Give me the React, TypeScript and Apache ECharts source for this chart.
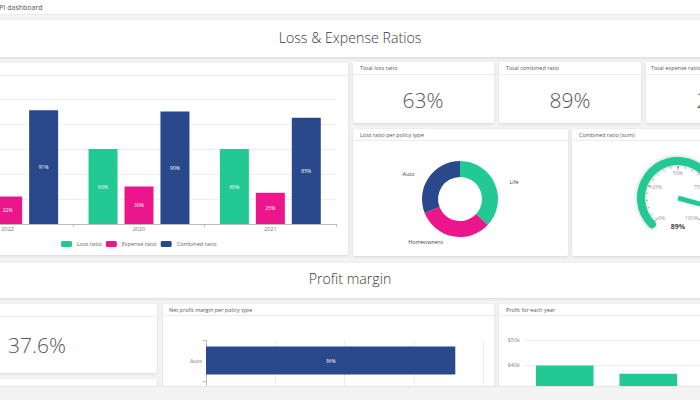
import React, { useEffect, useRef } from 'react';
import * as echarts from 'echarts';

// ---------- data ----------
const years = ['2022', '2020', '2021'];
const lossRatio = [69, 60, 60];
const expenseRatio = [22, 30, 25];
const combinedRatio = [91, 90, 85];

const policyTypes = ['Life', 'Homeowners', 'Auto'];
const lossByPolicy = [37, 32, 31];

const combinedRatioSum = 89;

const kpiTotalLoss = '63%';
const kpiTotalCombined = '89%';
const kpiTotalExpense = '26%';
const kpiProfitMargin = '37.6%';

const netProfitTypes = ['Auto', 'Homeowners', 'Life'];
const netProfitMargin = [36, 39, 38];

const profitYears = ['2022', '2020', '2021'];
const profitValues = [39800, 36500, 34500];

// ---------- styles ----------
const FONT = 'Open Sans';
const GREEN = '#22c992';
const PINK = '#ec168c';
const NAVY = '#2a488c';
const BG = '#f3f3f3';

const card = (x: number, y: number, w: number, h: number) => ({
  type: 'rect',
  silent: true,
  shape: { x, y, width: w, height: h, r: 2 },
  style: { fill: '#fff', shadowBlur: 3, shadowColor: 'rgba(0,0,0,0.12)', shadowOffsetY: 1 },
});
const hline = (x1: number, x2: number, y: number) => ({
  type: 'line',
  silent: true,
  shape: { x1, y1: y + 0.5, x2, y2: y + 0.5 },
  style: { stroke: '#ececec', lineWidth: 1 },
});
const txt = (x: number, y: number, text: string, size: number, color: string, align = 'left', weight: number | string = 400) => ({
  type: 'text',
  silent: true,
  x,
  y,
  style: { text, fontSize: size, fontFamily: FONT, fontWeight: weight, fill: color, align, verticalAlign: 'middle' },
});

const barLabel = {
  show: true,
  position: 'inside',
  color: '#fff',
  fontSize: 5,
  fontFamily: FONT,
  formatter: '{c}%',
};

export default function App() {
  const ref = useRef<HTMLDivElement>(null);
  useEffect(() => {
    const chart = echarts.init(ref.current!, null, { renderer: 'svg' });
    const option: any = {
      animation: false,
      backgroundColor: BG,
      textStyle: { fontFamily: FONT },
      graphic: {
        elements: [
          // top bar
          { type: 'rect', silent: true, shape: { x: 0, y: 0, width: 700, height: 14 }, style: { fill: '#fff' } },
          hline(0, 700, 14),
          txt(-5, 7, 'KPI dashboard', 7, '#555'),
          // section 1 title
          card(-10, 20, 720, 37),
          txt(350, 37, 'Loss & Expense Ratios', 14.2, '#3a3a3a', 'center', 300),
          // left bar panel
          card(-100, 63, 448, 192),
          hline(-100, 348, 75),
          // KPI cards
          card(353, 62, 141, 61),
          hline(353, 494, 74),
          txt(360, 67.5, 'Total loss ratio', 5.5, '#555'),
          txt(423, 100, kpiTotalLoss, 21, '#555', 'center', 300),
          card(499, 62, 142, 61),
          hline(499, 641, 74),
          txt(506, 67.5, 'Total combined ratio', 5.5, '#555'),
          txt(570, 100, kpiTotalCombined, 21, '#555', 'center', 300),
          card(646, 62, 120, 61),
          hline(646, 766, 74),
          txt(651, 67.5, 'Total expense ratio', 5.5, '#555'),
          txt(717, 100, kpiTotalExpense, 21, '#555', 'center', 300),
          // pie card
          card(353, 129, 215, 127),
          hline(353, 568, 140),
          txt(360, 135, 'Loss ratio per policy type', 5.5, '#555'),
          // gauge card
          card(572, 129, 190, 127),
          hline(572, 762, 140),
          txt(579, 134.5, 'Combined ratio (sum)', 5.5, '#555'),
          // section 2 title
          card(-10, 263, 720, 35),
          txt(350, 278.5, 'Profit margin', 14.2, '#3a3a3a', 'center', 300),
          // profit KPI card
          card(-100, 304, 257, 69),
          hline(-100, 157, 316),
          txt(8, 345, kpiProfitMargin, 21, '#555', 'left', 300),
          card(-100, 379, 257, 40),
          // net profit card
          card(163, 304, 331, 110),
          hline(163, 494, 315),
          txt(169, 310, 'Net profit margin per policy type', 5.5, '#555'),
          // profit each year card
          card(499, 304, 260, 110),
          hline(499, 759, 315),
          txt(506, 309.5, 'Profit for each year', 5.5, '#555'),
          // bottom strip overlay
          { type: 'rect', silent: true, z: 100, shape: { x: 0, y: 387, width: 700, height: 13 }, style: { fill: BG } },
          { type: 'line', silent: true, z: 100, shape: { x1: 0, y1: 386.5, x2: 700, y2: 386.5 }, style: { stroke: '#e6e6e6', lineWidth: 1 } },
        ],
      },
      legend: {
        data: ['Loss ratio', 'Expense ratio', 'Combined ratio'],
        left: 61,
        top: 241,
        padding: 0,
        itemWidth: 11,
        itemHeight: 6,
        itemGap: 4,
        icon: 'roundRect',
        textStyle: { fontSize: 5.5, color: '#666', fontFamily: FONT },
      },
      grid: [
        { left: -58, top: 99, width: 394, height: 125, outerBoundsMode: 'none' },
        { left: 206, top: 340, width: 277, height: 123, outerBoundsMode: 'none' },
        { left: 523, top: 340, width: 250.5, height: 125, outerBoundsMode: 'none' },
      ],
      xAxis: [
        {
          gridIndex: 0,
          type: 'category',
          data: years,
          axisLine: { lineStyle: { color: '#bbb' } },
          axisTick: { show: true, length: 3, lineStyle: { color: '#bbb' } },
          axisLabel: { fontSize: 5.5, color: '#777', margin: 2 },
        },
        {
          gridIndex: 1,
          type: 'value',
          min: 0,
          max: 40,
          interval: 10,
          axisLabel: { show: false },
          splitLine: { lineStyle: { color: '#ececec' } },
        },
        {
          gridIndex: 2,
          type: 'category',
          data: profitYears,
          axisLabel: { show: false },
          axisLine: { lineStyle: { color: '#bbb' } },
        },
      ],
      yAxis: [
        {
          gridIndex: 0,
          type: 'value',
          min: 0,
          max: 100,
          interval: 20,
          axisLabel: { show: false },
          splitLine: { lineStyle: { color: '#efefef' } },
        },
        {
          gridIndex: 1,
          type: 'category',
          data: netProfitTypes,
          inverse: true,
          axisLine: { lineStyle: { color: '#bbb' } },
          axisTick: { show: true, length: 3, lineStyle: { color: '#bbb' } },
          axisLabel: { fontSize: 5.5, color: '#777', margin: 4 },
        },
        {
          gridIndex: 2,
          type: 'value',
          min: 0,
          max: 50000,
          interval: 10000,
          axisLabel: { fontSize: 5.5, color: '#888', margin: 3, formatter: (v: number) => `$${v / 1000}k` },
          splitLine: { lineStyle: { color: '#efefef' } },
        },
      ],
      series: [
        {
          name: 'Loss ratio',
          type: 'bar',
          xAxisIndex: 0,
          yAxisIndex: 0,
          data: lossRatio,
          barWidth: 29,
          barGap: '24%',
          itemStyle: { color: GREEN },
          label: barLabel,
        },
        {
          name: 'Expense ratio',
          type: 'bar',
          xAxisIndex: 0,
          yAxisIndex: 0,
          data: expenseRatio,
          barWidth: 29,
          barGap: '24%',
          itemStyle: { color: PINK },
          label: barLabel,
        },
        {
          name: 'Combined ratio',
          type: 'bar',
          xAxisIndex: 0,
          yAxisIndex: 0,
          data: combinedRatio,
          barWidth: 29,
          barGap: '24%',
          itemStyle: { color: NAVY },
          label: barLabel,
        },
        {
          name: 'Loss ratio per policy type',
          type: 'pie',
          center: [460, 199],
          radius: [22, 38],
          startAngle: 90,
          data: policyTypes.map((n, i) => ({ name: n, value: lossByPolicy[i] })),
          color: [GREEN, PINK, NAVY],
          label: { show: true, position: 'outside', fontSize: 5.5, color: '#444', fontFamily: FONT },
          labelLine: { show: false, length: 6, length2: 4 },
        },
        {
          name: 'Combined ratio (sum)',
          type: 'gauge',
          center: [678, 198],
          radius: 41,
          startAngle: 225,
          endAngle: -45,
          min: 0,
          max: 100,
          splitNumber: 4,
          data: [{ value: combinedRatioSum }],
          axisLine: { roundCap: true, lineStyle: { width: 8, color: [[1, '#e8e8e8']] } },
          progress: {
            show: true,
            width: 8,
            roundCap: true,
            itemStyle: { color: GREEN, shadowBlur: 4, shadowColor: 'rgba(0,0,0,0.25)' },
          },
          axisTick: { distance: 1, length: 2, splitNumber: 5, lineStyle: { color: '#999', width: 0.7 } },
          splitLine: { distance: 1, length: 4, lineStyle: { color: '#888', width: 0.8 } },
          axisLabel: { distance: 8, fontSize: 5, color: '#999', formatter: '{value}%' },
          pointer: { length: '78%', width: 5, icon: 'roundRect', itemStyle: { color: GREEN } },
          anchor: { show: false },
          title: { show: false },
          detail: {
            offsetCenter: [0, 28],
            fontSize: 7,
            fontWeight: 'bold',
            color: '#444',
            formatter: '{value}%',
          },
        },
        {
          name: 'Net profit margin',
          type: 'bar',
          xAxisIndex: 1,
          yAxisIndex: 1,
          data: netProfitMargin,
          barCategoryGap: '32%',
          itemStyle: { color: NAVY },
          label: barLabel,
        },
        {
          name: 'Profit',
          type: 'bar',
          xAxisIndex: 2,
          yAxisIndex: 2,
          data: profitValues,
          barCategoryGap: '31%',
          itemStyle: { color: GREEN },
        },
      ],
    };
    chart.setOption(option);
    return () => chart.dispose();
  }, []);
  return <div ref={ref} style={{ position: 'absolute', left: 0, top: 0, width: 700, height: 400 }} />;
}
